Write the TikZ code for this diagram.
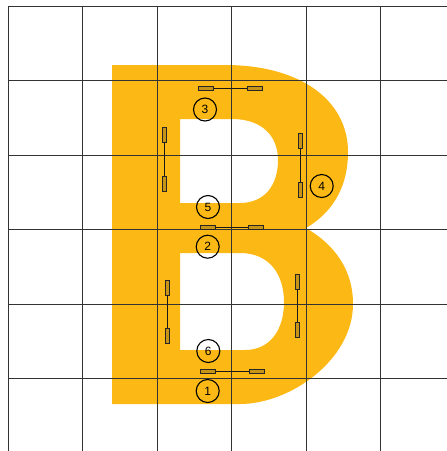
\documentclass[tikz,border=0pt]{standalone}
\usepackage{fontspec}
\setmainfont{Liberation Sans}
\usepackage{tikz}

\definecolor{byellow}{RGB}{252,185,21}
\definecolor{pad}{RGB}{200,148,24}

\begin{document}
\begin{tikzpicture}[x=1pt, y=-1pt,
    hpad/.style={draw=black!85, fill=pad, line width=0.8pt, inner sep=0pt,
        minimum width=15pt, minimum height=4pt},
    vpad/.style={hpad, minimum width=4pt, minimum height=15pt},
    tag/.style={draw=black, line width=1.1pt, circle, inner sep=0pt,
        minimum size=23pt, font=\fontsize{12}{14}\selectfont},
    wire/.style={draw=black!90, line width=1pt}]
    \useasboundingbox (0,0) rectangle (447,451);

    % the letter, holes cut out
    \fill[byellow, even odd rule]
    (112,65) -- (225,65) .. controls (300,65) and (348,100) .. (348,152)
    .. controls (348,190) and (330,214) .. (306,228)
    .. controls (335,245) and (353,270) .. (353,304)
    .. controls (353,360) and (290,404) .. (240,404)
    -- (112,404) -- cycle
    (180,119) -- (232,119) .. controls (262,119) and (278,136) .. (278,160)
    .. controls (278,186) and (264,203) .. (240,203) -- (180,203) -- cycle
    (180,253) -- (240,253) .. controls (270,253) and (284,275) .. (284,302)
    .. controls (284,330) and (270,350) .. (245,350) -- (180,350) -- cycle;

    % grid on top
    \foreach \x in {8,82.5,157,231.5,306,380.5}
        \draw[black!80, line width=0.9pt] (\x,6) -- (\x,451);
    \foreach \y in {6,80.5,155,229.5,304,378.5}
        \draw[black!80, line width=0.9pt] (8,\y) -- (447,\y);

    % pads
    \node[hpad] (t1) at (206,88.5) {};
    \node[hpad] (t2) at (254.5,88.5) {};
    \node[vpad] (ul1) at (164.7,134.5) {};
    \node[vpad] (ul2) at (164.7,183.5) {};
    \node[vpad] (ur1) at (300.7,140.5) {};
    \node[vpad] (ur2) at (300.7,189.5) {};
    \node[hpad] (m1) at (207.5,227.5) {};
    \node[hpad] (m2) at (255.5,227.5) {};
    \node[vpad] (ll1) at (167.7,287.5) {};
    \node[vpad] (ll2) at (167.7,335.5) {};
    \node[vpad] (lr1) at (297.7,281.5) {};
    \node[vpad] (lr2) at (297.7,329.5) {};
    \node[hpad] (b1) at (207.5,371) {};
    \node[hpad] (b2) at (256.5,371) {};

    \draw[wire] (t1) -- (t2);
    \draw[wire] (ul1) -- (ul2);
    \draw[wire] (ur1) -- (ur2);
    \draw[wire] (m1) -- (m2);
    \draw[wire] (ll1) -- (ll2);
    \draw[wire] (lr1) -- (lr2);
    \draw[wire] (b1) -- (b2);

    % numbers
    \node[tag] (n3) at (205,109.5) {3};
    \node[tag] (n4) at (321.7,186) {4};
    \node[tag] (n5) at (208,207) {5};
    \node[tag] (n2) at (207.7,246.7) {2};
    \node[tag] (n6) at (208.3,351) {6};
    \node[tag] (n1) at (207.7,391) {1};
\end{tikzpicture}
\end{document}
